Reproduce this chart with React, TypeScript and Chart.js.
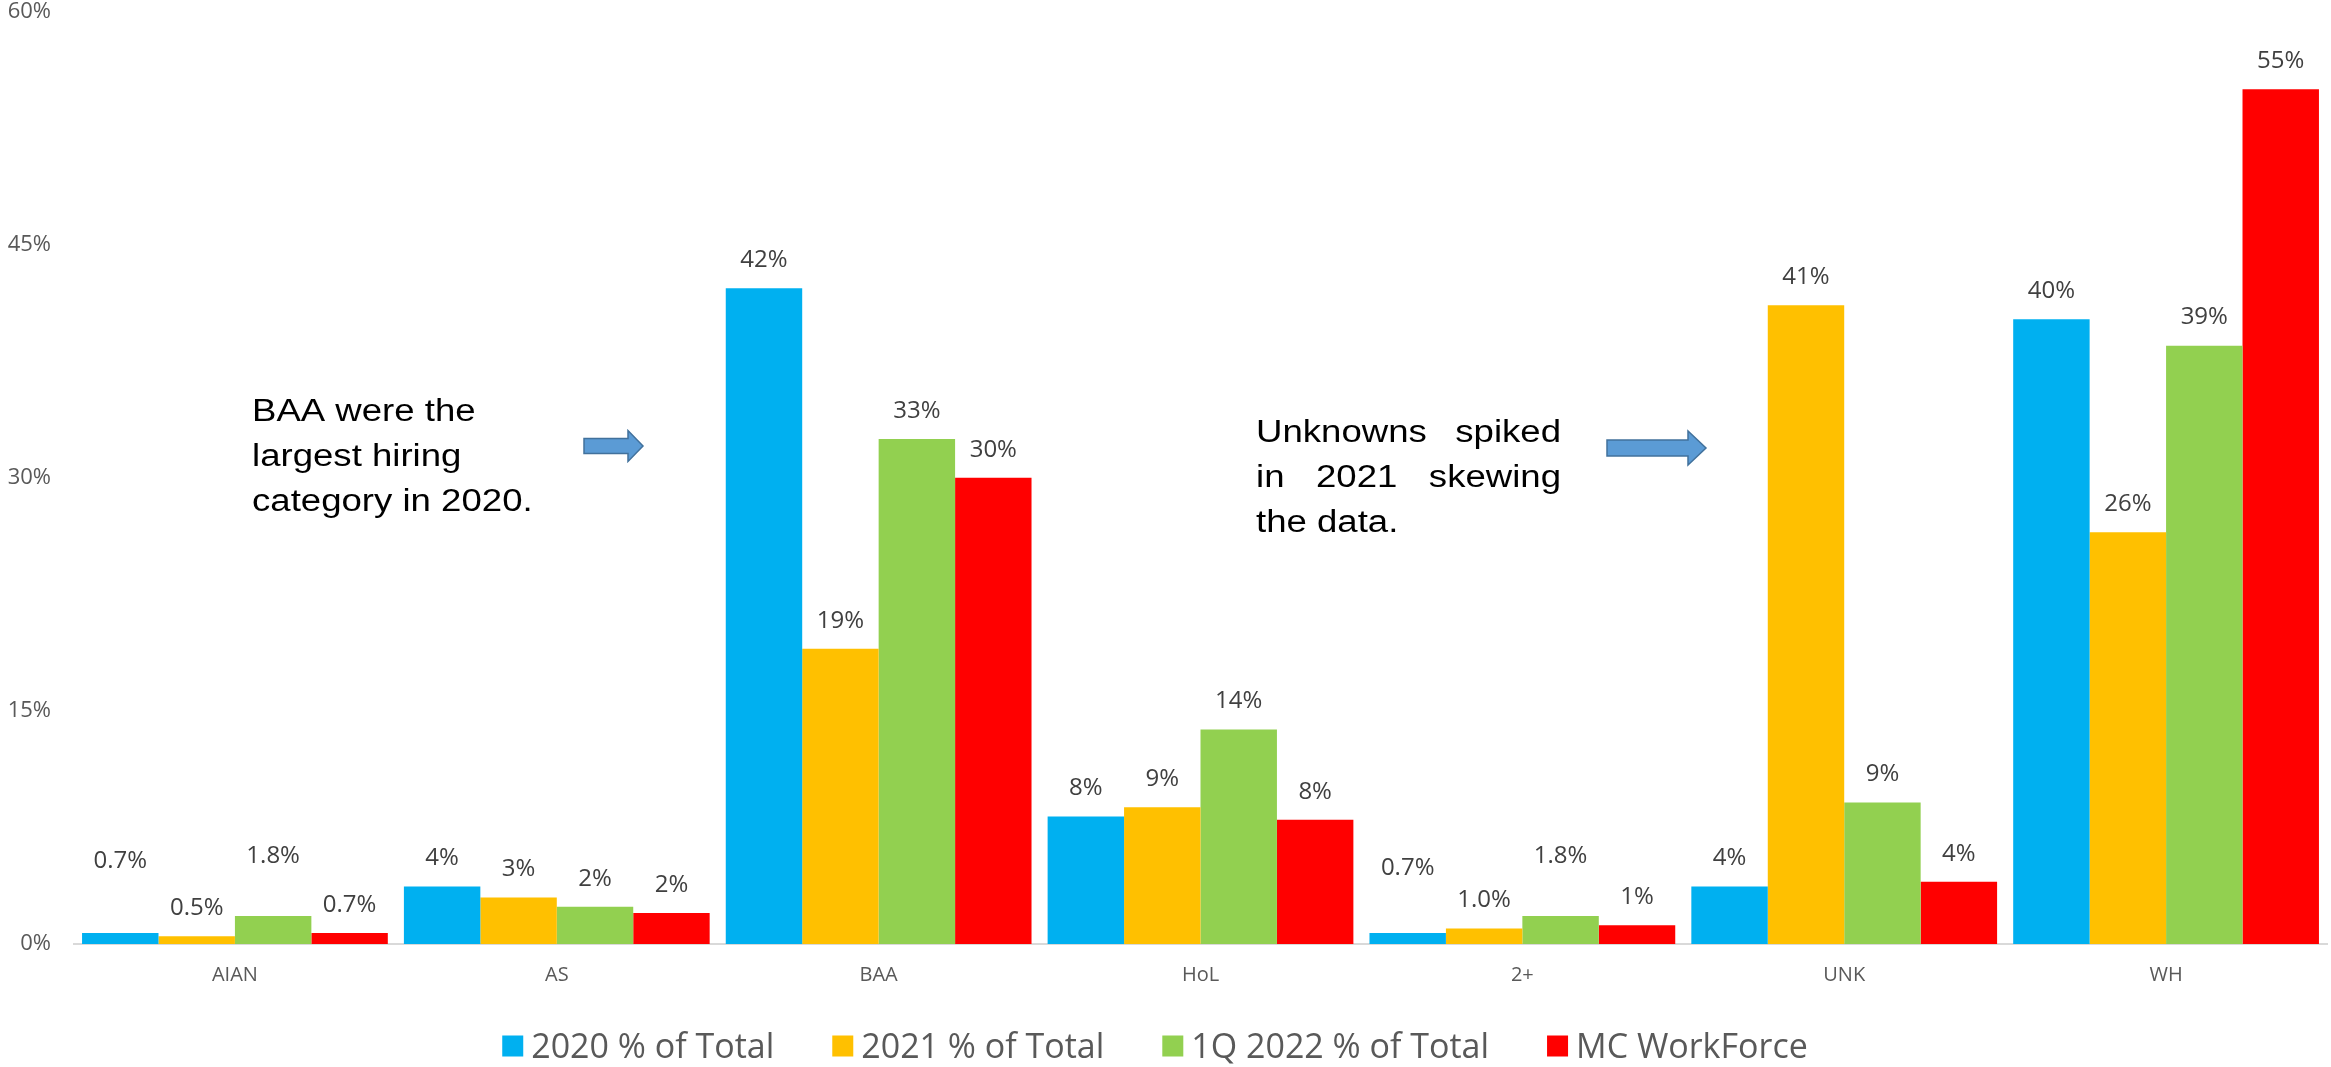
import React, { useEffect, useRef } from "react";
import { Chart, registerables } from "chart.js";

Chart.register(...registerables);

// ---------- data ----------
const categories = ["AIAN", "AS", "BAA", "HoL", "2+", "UNK", "WH"];
const seriesNames = ["2020 % of Total", "2021 % of Total", "1Q 2022 % of Total", "MC WorkForce"];

const values2020 = [0.7, 3.7, 42.2, 8.2, 0.7, 3.7, 40.2];
const values2021 = [0.5, 3.0, 19.0, 8.8, 1.0, 41.1, 26.5];
const values1Q2022 = [1.8, 2.4, 32.5, 13.8, 1.8, 9.1, 38.5];
const valuesWorkforce = [0.7, 2.0, 30.0, 8.0, 1.2, 4.0, 55.0];

const labels2020 = ["0.7%", "4%", "42%", "8%", "0.7%", "4%", "40%"];
const labels2021 = ["0.5%", "3%", "19%", "9%", "1.0%", "41%", "26%"];
const labels1Q2022 = ["1.8%", "2%", "33%", "14%", "1.8%", "9%", "39%"];
const labelsWorkforce = ["0.7%", "2%", "30%", "8%", "1%", "4%", "55%"];

const yMin = 0;
const yMax = 60;
const yStep = 15;

const noteLeftLines = ["BAA were the", "largest hiring", "category in 2020."];
const noteRightLines = ["Unknowns spiked", "in 2021 skewing", "the data."];

// ---------- styles ----------
const COLORS = ["#00B0F0", "#FFC000", "#92D050", "#FF0000"];
const TICK_FONT = "'Open Sans', 'Noto Sans', sans-serif";
const NOTE_FONT = "'Liberation Sans', Arial, sans-serif";

const valueLabelPlugin = {
  id: "valueLabels",
  afterDatasetsDraw(chart: any, _args: any, opts: any) {
    const ctx = chart.ctx;
    ctx.save();
    ctx.font = `${opts.size}px ${opts.family}`;
    ctx.fillStyle = opts.color;
    ctx.textAlign = "center";
    ctx.textBaseline = "middle";
    chart.data.datasets.forEach((ds: any, di: number) => {
      const meta = chart.getDatasetMeta(di);
      meta.data.forEach((bar: any, i: number) => {
        const lift = (opts.lift && opts.lift[`${di}:${i}`]) || 0;
        ctx.fillText(ds.valueLabels[i], bar.x, bar.y - opts.offset - lift);
      });
    });
    ctx.restore();
  },
};

const bottomLegendPlugin = {
  id: "bottomLegend",
  afterDraw(chart: any, _args: any, opts: any) {
    const ctx = chart.ctx;
    ctx.save();
    ctx.font = `${opts.size}px ${opts.family}`;
    const items = chart.data.datasets.map((ds: any) => ({
      text: ds.label,
      color: ds.backgroundColor,
      w: ctx.measureText(ds.label).width,
    }));
    const total =
      items.reduce((s: number, it: any) => s + opts.box + opts.boxGap + it.w, 0) +
      opts.itemGap * (items.length - 1);
    let x = opts.centerX - total / 2;
    const y = opts.centerY;
    ctx.textAlign = "left";
    ctx.textBaseline = "middle";
    items.forEach((it: any) => {
      ctx.fillStyle = it.color;
      ctx.fillRect(x, y - opts.box / 2, opts.box, opts.box);
      x += opts.box + opts.boxGap;
      ctx.fillStyle = opts.color;
      ctx.fillText(it.text, x, y + opts.textShift);
      x += it.w + opts.itemGap;
    });
    ctx.restore();
  },
};

function drawArrow(ctx: CanvasRenderingContext2D, a: any) {
  const { x0, x1, head, cy, shaft, headH } = a;
  const xh = x1 - head;
  ctx.save();
  ctx.beginPath();
  ctx.moveTo(x0, cy - shaft / 2);
  ctx.lineTo(xh, cy - shaft / 2);
  ctx.lineTo(xh, cy - headH / 2);
  ctx.lineTo(x1, cy);
  ctx.lineTo(xh, cy + headH / 2);
  ctx.lineTo(xh, cy + shaft / 2);
  ctx.lineTo(x0, cy + shaft / 2);
  ctx.closePath();
  ctx.fillStyle = "#5B9BD5";
  ctx.fill();
  ctx.lineWidth = 1.5;
  ctx.strokeStyle = "#41719C";
  ctx.stroke();
  ctx.restore();
}

const notesPlugin = {
  id: "notes",
  afterDraw(chart: any, _args: any, opts: any) {
    const ctx = chart.ctx;
    opts.notes.forEach((note: any) => {
      note.lines.forEach((line: string, li: number) => {
        const y = note.baseline + li * opts.lineHeight;
        const words = line.split(" ");
        const justify = note.justify && li < note.lines.length - 1 && words.length > 1;
        ctx.save();
        ctx.font = `${opts.size}px ${opts.family}`;
        ctx.fillStyle = "#000000";
        ctx.textAlign = "left";
        ctx.textBaseline = "alphabetic";
        ctx.translate(note.left, y);
        ctx.scale(opts.stretch, 1);
        if (justify) {
          const width = note.width / opts.stretch;
          const ws = words.map((w) => ctx.measureText(w).width);
          const sum = ws.reduce((s, v) => s + v, 0);
          const gap = (width - sum) / (words.length - 1);
          let x = 0;
          words.forEach((w, k) => {
            ctx.fillText(w, x, 0);
            x += ws[k] + gap;
          });
        } else {
          ctx.fillText(line, 0, 0);
        }
        ctx.restore();
      });
      drawArrow(ctx, note.arrow);
    });
  },
};

export default function App() {
  const canvasRef = useRef<HTMLCanvasElement | null>(null);

  useEffect(() => {
    document.body.style.margin = "0";
    const canvas = canvasRef.current;
    if (!canvas) return;
    const seriesValues = [values2020, values2021, values1Q2022, valuesWorkforce];
    const seriesLabels = [labels2020, labels2021, labels1Q2022, labelsWorkforce];

    const chart = new Chart(canvas, {
      type: "bar",
      data: {
        labels: categories,
        datasets: seriesNames.map((name, i) => ({
          label: name,
          data: seriesValues[i],
          valueLabels: seriesLabels[i],
          backgroundColor: COLORS[i],
          borderWidth: 0,
          categoryPercentage: 0.95,
          barPercentage: 1.0,
        })) as any,
      },
      plugins: [valueLabelPlugin, bottomLegendPlugin, notesPlugin],
      options: {
        responsive: false,
        animation: false,
        devicePixelRatio: 1,
        layout: { padding: { top: 11.5, right: 4, bottom: 73, left: 0 } },
        plugins: {
          legend: { display: false },
          tooltip: { enabled: false },
          valueLabels: {
            size: 24,
            family: TICK_FONT,
            color: "#404040",
            offset: 28,
            lift: { "0:0": 44, "2:0": 32, "0:4": 37, "2:4": 32 },
          },
          bottomLegend: {
            size: 34,
            family: TICK_FONT,
            color: "#595959",
            box: 21,
            boxGap: 8,
            itemGap: 58,
            centerX: 1155,
            centerY: 1046,
            textShift: 2,
          },
          notes: {
            size: 31,
            family: NOTE_FONT,
            stretch: 1.18,
            lineHeight: 45,
            notes: [
              {
                lines: noteLeftLines,
                left: 252,
                baseline: 421,
                justify: false,
                arrow: { x0: 584, x1: 643, head: 15, cy: 446, shaft: 15, headH: 31 },
              },
              {
                lines: noteRightLines,
                left: 1256,
                width: 305,
                baseline: 442,
                justify: true,
                arrow: { x0: 1607, x1: 1706, head: 18, cy: 448, shaft: 16, headH: 34 },
              },
            ],
          },
        } as any,
        scales: {
          x: {
            grid: { display: true, drawOnChartArea: false, drawTicks: false },
            border: { display: true, color: "#D9D9D9", width: 2 },
            ticks: {
              color: "#595959",
              font: { family: TICK_FONT, size: 20 },
              padding: 19,
            },
            afterFit: (s: any) => {
              s.height = 50;
            },
          },
          y: {
            min: yMin,
            max: yMax,
            grid: { display: false, drawTicks: false },
            border: { display: false },
            ticks: {
              stepSize: yStep,
              color: "#595959",
              font: { family: TICK_FONT, size: 22, lineHeight: 1 },
              padding: 23,
              callback: (v: any) => `${v}%`,
            },
            afterFit: (s: any) => {
              s.width = 74;
              s.paddingTop = 0;
              s.paddingBottom = 0;
            },
          },
        },
      },
    });
    return () => chart.destroy();
  }, []);

  return (
    <div style={{ position: "fixed", left: 0, top: 0, width: 2331, height: 1067, background: "#fff" }}>
      <canvas ref={canvasRef} width={2331} height={1067} style={{ display: "block" }} />
    </div>
  );
}
